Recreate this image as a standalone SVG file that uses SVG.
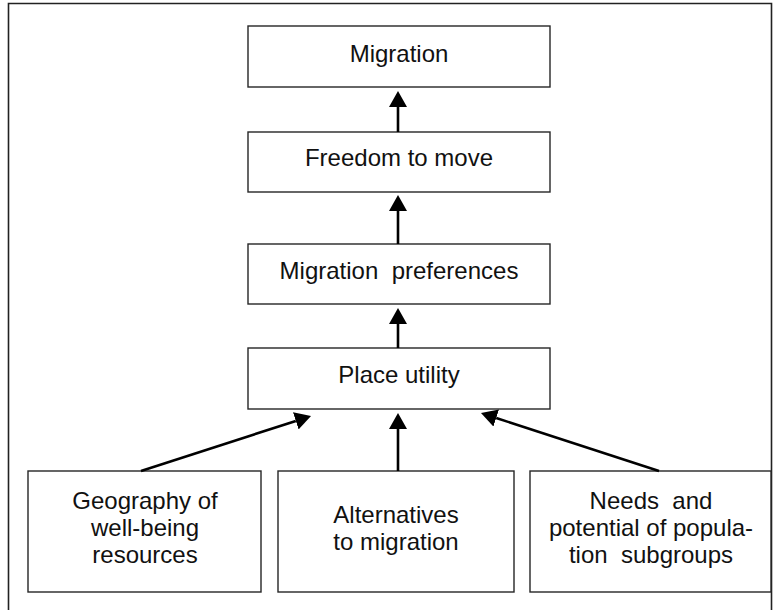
<svg xmlns="http://www.w3.org/2000/svg" width="775" height="610" viewBox="0 0 775 610">
<style>
.box{fill:#fff;stroke:#262626;stroke-width:1.4}
.lbl{font-family:"Liberation Sans",Arial,sans-serif;font-size:24px;fill:#111;text-anchor:middle}
.conn{stroke:#000;stroke-width:2.6;fill:none;marker-end:url(#ah)}
.frame{fill:none;stroke:#222;stroke-width:1.6}
</style>
<defs>
<marker id="ah" viewBox="0 0 16 18" markerUnits="userSpaceOnUse" markerWidth="16" markerHeight="18" refX="0" refY="9" orient="auto">
<path d="M0,0 L16,9 L0,18 z" fill="#000"/>
</marker>
</defs>
<rect width="775" height="610" fill="#fff"/>
<path class="frame" d="M8.5,612 V3.5 H771.5 V612"/>
<g id="migration">
<rect class="box" x="248" y="26" width="302" height="61"/>
<text class="lbl" x="399" y="62">Migration</text>
</g>
<g id="freedom">
<rect class="box" x="248" y="132" width="302" height="60"/>
<text class="lbl" x="399" y="166">Freedom to move</text>
</g>
<g id="preferences">
<rect class="box" x="248" y="244" width="302" height="60"/>
<text class="lbl" x="399" y="279" xml:space="preserve">Migration  preferences</text>
</g>
<g id="place">
<rect class="box" x="248" y="348" width="302" height="61"/>
<text class="lbl" x="399" y="383">Place utility</text>
</g>
<g id="geography">
<rect class="box" x="28" y="471" width="233" height="121"/>
<text class="lbl" x="145" y="509">Geography of</text>
<text class="lbl" x="145" y="536">well-being</text>
<text class="lbl" x="145" y="563">resources</text>
</g>
<g id="alternatives">
<rect class="box" x="278" y="471" width="236" height="121"/>
<text class="lbl" x="396" y="523">Alternatives</text>
<text class="lbl" x="396" y="550">to migration</text>
</g>
<g id="needs">
<rect class="box" x="530" y="471" width="241" height="121"/>
<text class="lbl" x="651" y="509" xml:space="preserve">Needs  and</text>
<text class="lbl" x="651" y="536">potential of popula-</text>
<text class="lbl" x="651" y="563" xml:space="preserve">tion  subgroups</text>
</g>
<g id="connectors">
<line class="conn" x1="398" y1="132" x2="398" y2="107"/>
<line class="conn" x1="398" y1="244" x2="398" y2="211"/>
<line class="conn" x1="398" y1="348" x2="398" y2="324"/>
<line class="conn" x1="398" y1="471" x2="398" y2="429"/>
<line class="conn" x1="141" y1="471" x2="295.8" y2="420.9"/>
<line class="conn" x1="659" y1="471" x2="496.2" y2="418"/>
</g>
</svg>
